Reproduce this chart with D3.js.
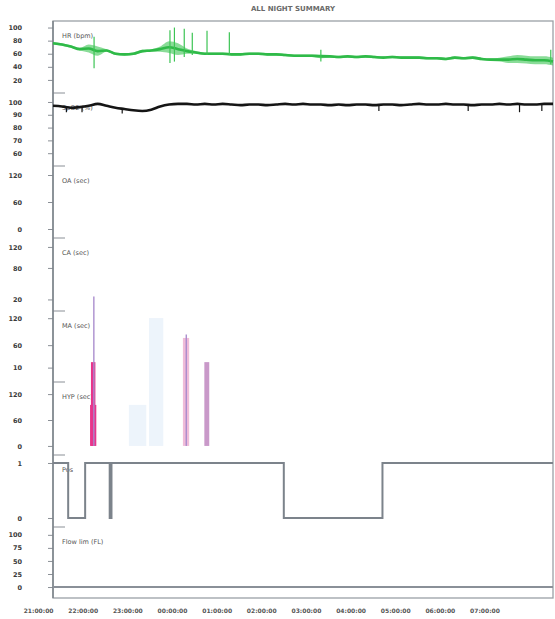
<!DOCTYPE html>
<meta charset="utf-8">
<script src="https://d3js.org/d3.v7.min.js"></script>
<style>
  body { margin: 0; background: #fff; }
  text { font-family: "DejaVu Sans", sans-serif; }
</style>
<body>
<div id="my_visual"></div>
<script>

// time of each trend sample, hours after 21:00
var trendTime = [0,0.2,0.4,0.6,0.8,1.0,1.2,1.4,1.6,1.8,2.0,2.2,2.4,2.6,2.8,3.0,3.2,3.4,3.6,3.8,
  4.0,4.2,4.4,4.6,4.8,5.0,5.2,5.4,5.6,5.8,6.0,6.2,6.4,6.6,6.8,7.0,7.2,7.4,7.6,7.8,
  8.0,8.2,8.4,8.6,8.8,9.0,9.2,9.4,9.6,9.8,10.0,10.2,10.4,10.6,10.8,11.0,11.2];

// pulse rate (green)
var pulseVals = [76,74,71,67,68,64,65,60,59,60,64,65,67,70,67,64,62,60,60,60,
  59,59,60,60,59,59,58,57,57,57,56,56,55,56,55,56,55,54,55,54,
  54,54,53,53,52,54,53,54,52,51,51,51,52,51,50,50,48];
var pulseSpread = [2,2,2,2,6,7,2,2,2,2,2,2,4,9,9,4,2,2,2,2,
  2,2,2,2,2,2,2,2,2,2,3,2,2,2,2,2,2,2,2,2,
  2,2,2,2,2,2,2,2,2,2,3,5,6,6,6,6,6];
var pulseSpikeTime = [0.92, 2.62, 2.72, 2.94, 3.12, 3.45, 3.95, 6.0, 11.15];
var pulseSpikeLo = [38, 46, 48, 55, 58, 58, 58, 48, 44];
var pulseSpikeHi = [86, 96, 100, 98, 92, 95, 93, 66, 66];

// SpO2 (black)
var spo2Vals = [97,96.5,95.5,96,97,98.5,97,95.5,94.5,93.5,93,94,96.5,98,98.5,98.5,98,98.5,98,98.5,
  98,97.5,98,98,97.5,98,98.5,98,98.5,98,98,97.5,98,97.5,98,98,97.5,98,98,97.5,
  98,98.5,98,98,98.5,98,98,97.5,98,98,98.5,98,98.5,98,98,98.5,98.5];
var spo2DipTime = [0.3, 0.65, 1.55, 7.3, 9.3, 10.45, 10.95];
var spo2DipHi = [96.5, 96, 95, 97.5, 98, 98.5, 98.5];
var spo2DipLo = [92, 92, 91, 93, 93, 92, 93];

// scored events (bars)
var eventType  = ["Hypopnea","Hypopnea","Desat","Desat","Arousal","RERA","Apnea","Apnea"];
var eventStart = [1.70, 2.15, 0.85, 0.83, 2.91, 3.39, 0.90, 2.97];
var eventEnd   = [2.09, 2.47, 0.95, 0.97, 3.05, 3.50, 0.93, 3.00];
var eventVal   = [95, 296, 194, 95, 250, 194, 346, 258];

// body position (1 = supine)
var posTime = [0, 0.34, 0.72, 1.27, 1.31, 5.17, 7.38, 11.2];
var posVals = [1, 0, 1, 0, 1, 0, 1, 1];

// bottom channel
var flowTime = [0, 11.2];
var flowVals = [0, 0];

// tick labels
var hourLabels = ["21:00:00","22:00:00","23:00:00","00:00:00","01:00:00","02:00:00",
  "03:00:00","04:00:00","05:00:00","06:00:00","07:00:00"];
var pulseTicks = [100, 80, 60, 40, 20];
var spo2Ticks = [100, 90, 80, 70, 60];
var oaTicks = [120, 60, 0];
var caTicks = [120, 80, 20];
var maTicks = [120, 60, 10];
var hypTicks = [120, 60, 0];
var posTicks = [1, 0];
var flowTicks = [100, 75, 50, 25, 0];

var W = 555, H = 619;
var plotL = 53, plotR = 553, plotT = 21, plotB = 598;

var svg = d3.select("#my_visual")
  .append("svg")
    .attr("width", W)
    .attr("height", H);

var x = d3.scaleLinear().domain([0, 11.2]).range([plotL, plotR]);

var panels = [
  {name: "HR (bpm)",  y0: 21,  y1: 93,  domain: [0, 110],     ticks: pulseTicks},
  {name: "SpO2 (%)",  y0: 93,  y1: 166, domain: [50, 107],    ticks: spo2Ticks},
  {name: "OA (sec)",  y0: 166, y1: 238, domain: [-20, 140],   ticks: oaTicks},
  {name: "CA (sec)",  y0: 238, y1: 311, domain: [-2, 137],    ticks: caTicks},
  {name: "MA (sec)",  y0: 311, y1: 382, domain: [-22, 136],   ticks: maTicks},
  {name: "HYP (sec)", y0: 382, y1: 455, domain: [-21, 148],   ticks: hypTicks},
  {name: "Pos",       y0: 455, y1: 527, domain: [-0.164, 1.145], ticks: posTicks},
  {name: "Flow lim (FL)", y0: 527, y1: 598, domain: [-21, 115], ticks: flowTicks}
];
panels.forEach(function(p) {
  p.y = d3.scaleLinear().domain(p.domain).range([p.y1, p.y0]);
});

// title
svg.append("text")
  .attr("x", 293).attr("y", 11)
  .attr("text-anchor", "middle")
  .attr("font-size", 7).attr("font-weight", "bold")
  .attr("fill", "#6a6a6a")
  .text("ALL NIGHT SUMMARY");

// frame
svg.append("rect")
  .attr("x", plotL).attr("y", plotT)
  .attr("width", plotR - plotL).attr("height", plotB - plotT)
  .attr("fill", "none").attr("stroke", "#9aa0a6").attr("stroke-width", 1.3);

// panel axes + labels
panels.forEach(function(p, i) {
  var g = svg.append("g").attr("transform", "translate(" + plotL + ",0)")
    .call(d3.axisLeft(p.y).tickValues(p.ticks).tickFormat(d3.format("d"))
      .tickSize(5).tickPadding(26));
  g.select(".domain").remove();
  g.selectAll("line").attr("stroke", "#8a8f96");
  g.selectAll("text").attr("font-size", 6.5).attr("font-weight", "bold").attr("fill", "#3a3a3a")
    .attr("font-family", "DejaVu Sans, sans-serif");

  if (i > 0) {
    svg.append("line")
      .attr("x1", plotL).attr("x2", plotL + 12)
      .attr("y1", p.y0).attr("y2", p.y0)
      .attr("stroke", "#8a8f96").attr("stroke-width", 1);
  }
  svg.append("text")
    .attr("x", plotL + 9).attr("y", p.y0 + 17)
    .attr("font-size", 6.5).attr("fill", "#555")
    .text(p.name);
});

// left axis line
svg.append("line")
  .attr("x1", plotL).attr("x2", plotL).attr("y1", plotT).attr("y2", plotB)
  .attr("stroke", "#7d838a").attr("stroke-width", 1.5);

// bottom time labels
var xAxis = svg.append("g").attr("transform", "translate(0," + (plotB + 11) + ")")
  .call(d3.axisBottom(x).tickValues(d3.range(hourLabels.length))
    .tickFormat(function(d, i) { return hourLabels[i]; }).tickSize(0).tickPadding(0));
xAxis.select(".domain").remove();
xAxis.selectAll("text").attr("text-anchor", "end").attr("font-size", 6)
  .attr("font-weight", "bold").attr("fill", "#555");

// pulse trace
var pP = panels[0];
var pulse = trendTime.map(function(t, i) { return {t: t, v: pulseVals[i], s: pulseSpread[i]}; });
svg.append("path").datum(pulse)
  .attr("fill", "#3cc454").attr("fill-opacity", 0.6)
  .attr("d", d3.area().x(function(d) { return x(d.t); })
    .y0(function(d) { return pP.y(d.v - d.s); })
    .y1(function(d) { return pP.y(d.v + d.s); })
    .curve(d3.curveMonotoneX));
svg.append("path").datum(pulse)
  .attr("fill", "none").attr("stroke", "#2fba48").attr("stroke-width", 2.6)
  .attr("d", d3.line().x(function(d) { return x(d.t); }).y(function(d) { return pP.y(d.v); })
    .curve(d3.curveMonotoneX));
svg.append("g").selectAll("line").data(pulseSpikeTime).enter().append("line")
  .attr("x1", function(d) { return x(d); }).attr("x2", function(d) { return x(d); })
  .attr("y1", function(d, i) { return pP.y(pulseSpikeLo[i]); })
  .attr("y2", function(d, i) { return pP.y(pulseSpikeHi[i]); })
  .attr("stroke", "#3cc454").attr("stroke-width", 1.2);

// spo2 trace
var sP = panels[1];
var spo2 = trendTime.map(function(t, i) { return {t: t, v: spo2Vals[i]}; });
svg.append("path").datum(spo2)
  .attr("fill", "none").attr("stroke", "#151515").attr("stroke-width", 2.6)
  .attr("d", d3.line().x(function(d) { return x(d.t); }).y(function(d) { return sP.y(d.v); })
    .curve(d3.curveMonotoneX));
svg.append("g").selectAll("line").data(spo2DipTime).enter().append("line")
  .attr("x1", function(d) { return x(d); }).attr("x2", function(d) { return x(d); })
  .attr("y1", function(d, i) { return sP.y(spo2DipHi[i]); })
  .attr("y2", function(d, i) { return sP.y(spo2DipLo[i]); })
  .attr("stroke", "#151515").attr("stroke-width", 1.2);

// events
var hP = panels[5];
var evColor = d3.scaleOrdinal()
  .domain(["Hypopnea", "Desat", "Arousal", "RERA", "Apnea"])
  .range(["#edf4fb", "#e8358c", "#f0bcd8", "#c999c9", "#a88acc"]);
var events = eventType.map(function(t, i) {
  return {type: t, s: eventStart[i], e: eventEnd[i], v: eventVal[i]};
});
svg.append("g").selectAll("rect").data(events).enter().append("rect")
  .attr("x", function(d) { return x(d.s); })
  .attr("width", function(d) { return Math.max(1, x(d.e) - x(d.s)); })
  .attr("y", function(d) { return hP.y(d.v); })
  .attr("height", function(d) { return hP.y(0) - hP.y(d.v); })
  .attr("fill", function(d) { return evColor(d.type); });

// position step
var oP = panels[6];
var pos = posTime.map(function(t, i) { return {t: t, v: posVals[i]}; });
svg.append("path").datum(pos)
  .attr("fill", "none").attr("stroke", "#7c838b").attr("stroke-width", 2)
  .attr("d", d3.line().x(function(d) { return x(d.t); }).y(function(d) { return oP.y(d.v); })
    .curve(d3.curveStepAfter));

// flow limitation baseline
var fP = panels[7];
var flow = flowTime.map(function(t, i) { return {t: t, v: flowVals[i]}; });
svg.append("path").datum(flow)
  .attr("fill", "none").attr("stroke", "#8a9098").attr("stroke-width", 2)
  .attr("d", d3.line().x(function(d) { return x(d.t); }).y(function(d) { return fP.y(d.v); }));

</script>
</body>
</html>
